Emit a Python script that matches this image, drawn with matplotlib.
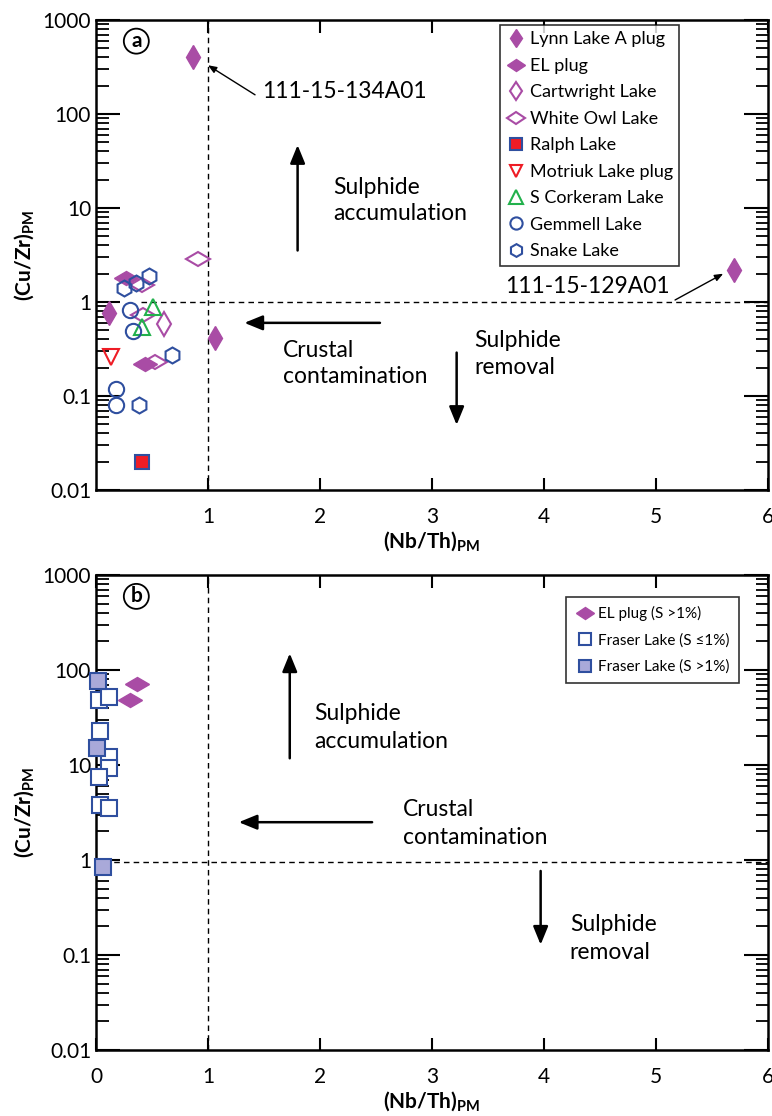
import matplotlib
matplotlib.use("Agg")
import matplotlib.pyplot as plt
from matplotlib.markers import MarkerStyle
from matplotlib.transforms import Affine2D
from matplotlib.ticker import FixedLocator, LogLocator, NullFormatter

plt.rcParams['font.family'] = ['Lato', 'DejaVu Sans']
plt.rcParams['mathtext.fontset'] = 'custom'
plt.rcParams['mathtext.rm'] = 'Lato'
plt.rcParams['mathtext.bf'] = 'Lato:bold'

# ---- panel a data: (Nb/Th)PM, (Cu/Zr)PM ----
lynn_x = [0.87, 0.12, 1.06, 5.70]
lynn_y = [400, 0.76, 0.41, 2.2]
el_a_x = [0.27, 0.44]
el_a_y = [1.8, 0.22]
cart_x = [0.61]
cart_y = [0.59]
owl_x = [0.91, 0.41, 0.42, 0.53]
owl_y = [2.9, 1.5, 0.72, 0.23]
ralph_x = [0.41]
ralph_y = [0.02]
motr_x = [0.13]
motr_y = [0.26]
cork_x = [0.51, 0.41]
cork_y = [0.88, 0.54]
gem_x = [0.30, 0.33, 0.18, 0.18]
gem_y = [0.83, 0.49, 0.12, 0.081]
snake_x = [0.47, 0.25, 0.36, 0.68, 0.38]
snake_y = [1.9, 1.4, 1.6, 0.27, 0.081]

# ---- panel b data ----
el_b_x = [0.37, 0.30]
el_b_y = [71, 48]
fr_lo_x = [0.03, 0.12, 0.04, 0.12, 0.12, 0.03, 0.04, 0.12]
fr_lo_y = [48, 52, 23, 12, 9.2, 7.5, 3.8, 3.5]
fr_hi_x = [0.02, 0.01, 0.06]
fr_hi_y = [77, 15, 0.85]

purple = '#a94ca5'
blue = '#2f4f9f'
green = '#22b14c'
red = '#ee1c25'

vdia = MarkerStyle('d')
hdia = MarkerStyle('d', transform=Affine2D().rotate_deg(90))

fig = plt.figure(figsize=(7.72, 11.16), dpi=100)
ax1 = fig.add_axes([96/772, 1 - 490/1116, 672/772, 470/1116])
ax2 = fig.add_axes([96/772, 1 - 1050/1116, 672/772, 475/1116])


def style_axes(ax, xticks):
    ax.set_yscale('log')
    ax.set_xlim(0, 6)
    ax.set_ylim(0.01, 1000)
    ax.xaxis.set_major_locator(FixedLocator(xticks))
    ax.set_xticklabels([str(t) for t in xticks])
    ax.yaxis.set_major_locator(FixedLocator([0.01, 0.1, 1, 10, 100, 1000]))
    ax.set_yticklabels(['0.01', '0.1', '1', '10', '100', '1000'])
    ax.yaxis.set_minor_locator(LogLocator(base=10, subs=range(2, 10), numticks=20))
    ax.yaxis.set_minor_formatter(NullFormatter())
    ax.tick_params(axis='y', which='major', direction='in', length=17, width=1.5,
                   left=True, right=True, labelsize=15)
    ax.tick_params(axis='y', which='minor', direction='in', length=9, width=1.3,
                   left=True, right=True)
    ax.tick_params(axis='x', which='major', direction='in', length=9, width=1.5,
                   top=True, bottom=True, labelsize=15, pad=12)
    for s in ax.spines.values():
        s.set_linewidth(1.8)
    ax.set_xlabel(r'$\mathbf{(Nb/Th)}_{\mathbf{PM}}$', fontsize=15, labelpad=2)
    ax.set_ylabel(r'$\mathbf{(Cu/Zr)}_{\mathbf{PM}}$', fontsize=15, labelpad=4)


style_axes(ax1, [1, 2, 3, 4, 5, 6])
style_axes(ax2, [0, 1, 2, 3, 4, 5, 6])

dash = dict(color='black', lw=1.0, ls=(0, (4, 3)), zorder=1)
for ax in (ax1, ax2):
    ax.axvline(1, **dash)
ax1.plot([0.4, 6], [1, 1], **dash)
ax2.plot([0.07, 6], [0.96, 0.96], **dash)

mk = dict(ls='none', zorder=3, clip_on=False)
# panel a markers
ax1.plot(lynn_x, lynn_y, marker=vdia, ms=12, color=purple, mec=purple,
         label='Lynn Lake A plug', **mk)
ax1.plot(el_a_x, el_a_y, marker=hdia, ms=12, color=purple, mec=purple,
         label='EL plug', **mk)
ax1.plot(cart_x, cart_y, marker=vdia, ms=12, mfc='none', mec=purple,
         mew=1.5, label='Cartwright Lake', **mk)
ax1.plot(owl_x, owl_y, marker=hdia, ms=12, mfc='none', mec=purple,
         mew=1.5, label='White Owl Lake', **mk)
ax1.plot(ralph_x, ralph_y, marker='s', ms=10, mfc=red, mec=blue,
         mew=1.5, label='Ralph Lake', **mk)
ax1.plot(motr_x, motr_y, marker='v', ms=11, mfc='none', mec=red,
         mew=1.5, label='Motriuk Lake plug', **mk)
ax1.plot(cork_x, cork_y, marker='^', ms=12, mfc='none', mec=green,
         mew=1.5, label='S Corkeram Lake', **mk)
ax1.plot(gem_x, gem_y, marker='o', ms=11, mfc='none', mec=blue,
         mew=1.5, label='Gemmell Lake', **mk)
ax1.plot(snake_x, snake_y, marker='h', ms=11.5, mfc='none', mec=blue,
         mew=1.5, label='Snake Lake', **mk)

leg1 = ax1.legend(loc='upper right', bbox_to_anchor=(0.868, 0.989), borderaxespad=0,
                  fontsize=13, frameon=True, fancybox=False, edgecolor='black',
                  handletextpad=0.2, handlelength=1.1, labelspacing=0.58,
                  borderpad=0.35, markerscale=0.8)
leg1.get_frame().set_linewidth(1.2)

# panel b markers
ax2.plot(el_b_x, el_b_y, marker=hdia, ms=12, color=purple, mec=purple,
         label='EL plug (S >1%)', **mk)
ax2.plot(fr_lo_x, fr_lo_y, marker='s', ms=11, mfc='white', mec=blue,
         mew=1.5, label='Fraser Lake (S \u22641%)', **mk)
fr_hi = dict(mk, zorder=4)
ax2.plot(fr_hi_x, fr_hi_y, marker='s', ms=11, mfc='#a9a9d9', mec=blue,
         mew=1.5, label='Fraser Lake (S >1%)', **fr_hi)

leg2 = ax2.legend(loc='upper right', bbox_to_anchor=(0.957, 0.954), borderaxespad=0,
                  fontsize=11, frameon=True, fancybox=False, edgecolor='black',
                  handletextpad=0.3, handlelength=1.2, labelspacing=0.8,
                  borderpad=0.6, markerscale=0.8)
leg2.get_frame().set_linewidth(1.2)

# panel labels
for ax, lab in ((ax1, 'a'), (ax2, 'b')):
    ax.text(0.06, 0.955, lab, transform=ax.transAxes, fontsize=15, fontweight='bold',
            ha='center', va='center',
            bbox=dict(boxstyle='circle,pad=0.12', fc='white', ec='black', lw=1.3))

arrow = dict(arrowstyle='-|>,head_length=1.1,head_width=0.45', color='black', lw=1.8)
small_arrow = dict(arrowstyle='-|>,head_length=0.5,head_width=0.2', color='black',
                   lw=1.0, shrinkA=0, shrinkB=0)
fs = 16.5

# panel a annotations
ax1.annotate('', xy=(1.0, 330), xytext=(1.42, 160), arrowprops=small_arrow)
ax1.text(1.48, 175, '111-15-134A01', fontsize=fs, ha='left', va='center')
ax1.annotate('', xy=(5.6, 2.0), xytext=(5.17, 1.05), arrowprops=small_arrow)
ax1.text(5.12, 1.45, '111-15-129A01', fontsize=fs, ha='right', va='center')
ax1.annotate('', xy=(1.8, 50), xytext=(1.8, 3.3), arrowprops=arrow)
ax1.text(2.12, 12, 'Sulphide\naccumulation', fontsize=fs, ha='left', va='center',
         linespacing=1.3)
ax1.annotate('', xy=(1.3, 0.6), xytext=(2.56, 0.6), arrowprops=arrow)
ax1.text(1.67, 0.22, 'Crustal\ncontamination', fontsize=fs, ha='left', va='center',
         linespacing=1.3)
ax1.annotate('', xy=(3.22, 0.046), xytext=(3.22, 0.31), arrowprops=arrow)
ax1.text(3.38, 0.28, 'Sulphide\nremoval', fontsize=fs, ha='left', va='center',
         linespacing=1.3)

# panel b annotations
ax2.annotate('', xy=(1.73, 160), xytext=(1.73, 11), arrowprops=arrow)
ax2.text(1.95, 25, 'Sulphide\naccumulation', fontsize=fs, ha='left', va='center',
         linespacing=1.4)
ax2.annotate('', xy=(1.25, 2.5), xytext=(2.49, 2.5), arrowprops=arrow)
ax2.text(2.74, 2.4, 'Crustal\ncontamination', fontsize=fs, ha='left', va='center',
         linespacing=1.4)
ax2.annotate('', xy=(3.97, 0.12), xytext=(3.97, 0.82), arrowprops=arrow)
ax2.text(4.23, 0.15, 'Sulphide\nremoval', fontsize=fs, ha='left', va='center',
         linespacing=1.4)

fig.savefig('out.png', dpi=100)
